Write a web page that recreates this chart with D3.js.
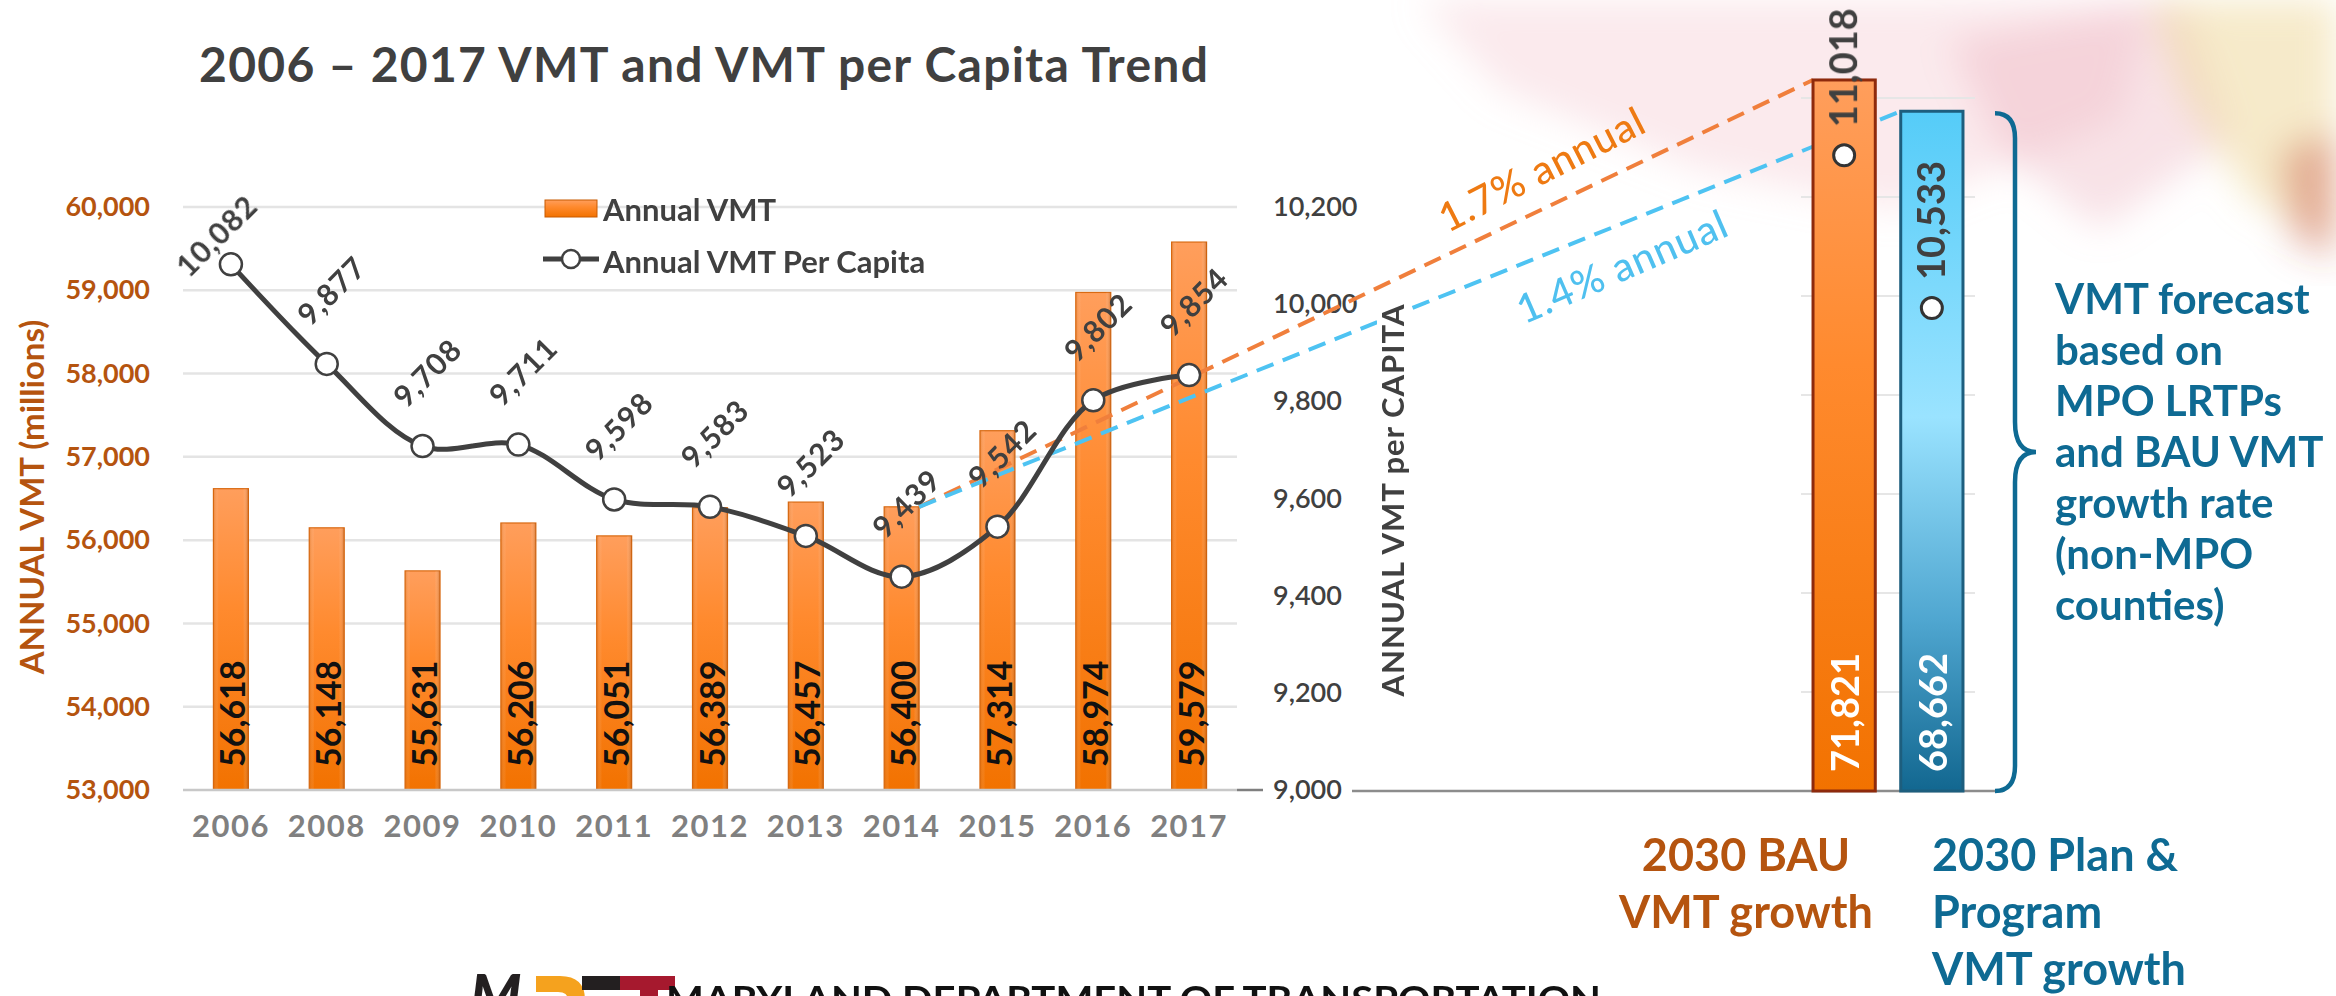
<!DOCTYPE html>
<html>
<head>
<meta charset="utf-8">
<script src="https://cdn.jsdelivr.net/npm/d3@7"></script>
<style>
  html, body { margin: 0; padding: 0; background: #fff; }
  svg { display: block; font-family: Lato, "Open Sans", sans-serif; }
</style>
</head>
<body>
<div id="chart"></div>
<script>
// data
const years = ["2006", "2008", "2009", "2010", "2011", "2012", "2013", "2014", "2015", "2016", "2017"];
const annualVMT = [56618, 56148, 55631, 56206, 56051, 56389, 56457, 56400, 57314, 58974, 59579];
const vmtPerCapita = [10082, 9877, 9708, 9711, 9598, 9583, 9523, 9439, 9542, 9802, 9854];
const vmtTicks = [53000, 54000, 55000, 56000, 57000, 58000, 59000, 60000];
const perCapitaTicks = [9000, 9200, 9400, 9600, 9800, 10000, 10200];

const forecastCats = ["2030 BAU", "2030 Plan & Program"];
const forecastVMT = [71821, 68662];
const forecastPerCapita = [11018, 10533];
const forecastGrid = [0, 10000, 20000, 30000, 40000, 50000, 60000, 70000];
const growthRates = ["1.7% annual", "1.4% annual"];

const bauLabel = ["2030 BAU", "VMT growth"];
const planLabel = ["2030 Plan &", "Program", "VMT growth"];
const noteLines = ["VMT forecast", "based on", "MPO LRTPs", "and BAU VMT", "growth rate", "(non-MPO", "counties)"];

const width = 2336;
const height = 996;
const dark = "#404040";
const brown = "#B5540F";
const teal = "#0E6A93";

const svg = d3.select("#chart").append("svg")
    .attr("width", width)
    .attr("height", height)
    .attr("viewBox", [0, 0, width, height]);

const defs = svg.append("defs");

const og = defs.append("linearGradient").attr("id", "orangeBar").attr("x1", 0).attr("y1", 0).attr("x2", 0).attr("y2", 1);
og.append("stop").attr("offset", "0%").attr("stop-color", "#FF9E5C");
og.append("stop").attr("offset", "40%").attr("stop-color", "#FF8A2E");
og.append("stop").attr("offset", "100%").attr("stop-color", "#F27200");

const oe = defs.append("linearGradient").attr("id", "orangeEdge").attr("x1", 0).attr("y1", 0).attr("x2", 1).attr("y2", 0);
oe.append("stop").attr("offset", "0%").attr("stop-color", "#C85A00").attr("stop-opacity", 0.35);
oe.append("stop").attr("offset", "15%").attr("stop-color", "#fff").attr("stop-opacity", 0);
oe.append("stop").attr("offset", "85%").attr("stop-color", "#fff").attr("stop-opacity", 0);
oe.append("stop").attr("offset", "100%").attr("stop-color", "#A84800").attr("stop-opacity", 0.45);

const bg = defs.append("linearGradient").attr("id", "blueBar").attr("x1", 0).attr("y1", 0).attr("x2", 0).attr("y2", 1);
bg.append("stop").attr("offset", "0%").attr("stop-color", "#55CCF8");
bg.append("stop").attr("offset", "45%").attr("stop-color", "#9AE3FF");
bg.append("stop").attr("offset", "75%").attr("stop-color", "#4FA6D0");
bg.append("stop").attr("offset", "100%").attr("stop-color", "#126790");

defs.append("filter").attr("id", "blur").append("feGaussianBlur").attr("stdDeviation", 18);

// faint flag decoration top right
const deco = svg.append("g").attr("filter", "url(#blur)");
deco.append("path")
    .attr("d", "M1420,0 L2150,0 L2120,120 L1900,210 L1700,170 L1500,90 Z")
    .attr("fill", "#F3C4CC").attr("opacity", 0.35);
deco.append("path")
    .attr("d", "M1950,40 L2180,0 L2230,140 L2100,230 L2000,150 Z")
    .attr("fill", "#E8A0AE").attr("opacity", 0.3);
deco.append("path")
    .attr("d", "M2150,0 L2336,0 L2336,240 L2250,200 L2180,90 Z")
    .attr("fill", "#EBD08A").attr("opacity", 0.45);
deco.append("path")
    .attr("d", "M2280,150 L2336,130 L2336,260 L2290,240 Z")
    .attr("fill", "#C0392B").attr("opacity", 0.35);

// ---- left chart: 2006-2017 ----
const x = d3.scaleBand().domain(years).range([183, 1237]).paddingInner(0.635).paddingOuter(0.3175);
const y = d3.scaleLinear().domain([53000, 60000]).range([790, 207]);
const yPc = d3.scaleLinear().domain([9000, 10200]).range([790, 207]);

svg.append("text")
    .attr("x", 199).attr("y", 82)
    .attr("font-size", 48).attr("font-weight", 700).attr("fill", dark)
    .attr("letter-spacing", 1.3)
    .text("2006 \u2013 2017 VMT and VMT per Capita Trend");

// gridlines
svg.append("g")
    .selectAll("line")
    .data(vmtTicks.slice(1))
    .join("line")
    .attr("x1", 183).attr("x2", 1237)
    .attr("y1", d => y(d)).attr("y2", d => y(d))
    .attr("stroke", "#E4E4E4").attr("stroke-width", 2.5);

// left axis
const gy = svg.append("g")
    .attr("transform", "translate(150,0)")
    .call(d3.axisLeft(y).tickValues(vmtTicks).tickSize(0).tickPadding(0).tickFormat(d3.format(",")))
    .call(g => g.select(".domain").remove());
gy.selectAll("text")
    .attr("font-family", "Lato, sans-serif").attr("font-size", 27).attr("font-weight", 700)
    .attr("fill", brown);

svg.append("text")
    .attr("transform", "translate(31,497) rotate(-90)")
    .attr("text-anchor", "middle").attr("dominant-baseline", "central")
    .attr("font-size", 33).attr("font-weight", 700).attr("fill", brown)
    .text("ANNUAL VMT (millions)");

// bars
const barG = svg.append("g");
barG.selectAll("rect.bar")
    .data(years)
    .join("rect")
    .attr("class", "bar")
    .attr("x", d => x(d))
    .attr("y", (d, i) => y(annualVMT[i]))
    .attr("width", x.bandwidth())
    .attr("height", (d, i) => y(53000) - y(annualVMT[i]))
    .attr("fill", "url(#orangeBar)")
    .attr("stroke", "#D96A12").attr("stroke-width", 1.2);
barG.selectAll("rect.edge")
    .data(years)
    .join("rect")
    .attr("class", "edge")
    .attr("x", d => x(d))
    .attr("y", (d, i) => y(annualVMT[i]))
    .attr("width", x.bandwidth())
    .attr("height", (d, i) => y(53000) - y(annualVMT[i]))
    .attr("fill", "url(#orangeEdge)");

// bar value labels
barG.selectAll("text")
    .data(years)
    .join("text")
    .attr("transform", d => `translate(${x(d) + x.bandwidth() / 2 + 1},767) rotate(-90)`)
    .attr("dominant-baseline", "central")
    .attr("font-size", 34).attr("font-weight", 700).attr("fill", "#111")
    .text((d, i) => d3.format(",")(annualVMT[i]));

// x axis
svg.append("line")
    .attr("x1", 183).attr("x2", 1237).attr("y1", y(53000)).attr("y2", y(53000))
    .attr("stroke", "#C8C8C8").attr("stroke-width", 2.5);
const gx = svg.append("g")
    .attr("transform", `translate(0,${y(53000)})`)
    .call(d3.axisBottom(x).tickSize(0).tickPadding(25))
    .call(g => g.select(".domain").remove());
gx.selectAll("text")
    .attr("font-family", "Lato, sans-serif").attr("font-size", 31).attr("font-weight", 700)
    .attr("letter-spacing", 1.5)
    .attr("fill", "#808080");

// right axis (per capita)
svg.append("line")
    .attr("x1", 1237).attr("x2", 1263).attr("y1", yPc(9000)).attr("y2", yPc(9000))
    .attr("stroke", "#7F7F7F").attr("stroke-width", 2.5);
const gr = svg.append("g")
    .attr("transform", "translate(1273,0)")
    .call(d3.axisRight(yPc).tickValues(perCapitaTicks).tickSize(0).tickPadding(0).tickFormat(d3.format(",")))
    .call(g => g.select(".domain").remove());
gr.selectAll("text")
    .attr("font-family", "Lato, sans-serif").attr("font-size", 27).attr("font-weight", 600)
    .attr("fill", dark);

// ---- right panel: 2030 forecast ----
const xF = d3.scaleBand().domain(forecastCats).range([1806, 1970]).paddingInner(0.29).paddingOuter(0.08);
const yF = d3.scaleLinear().domain([0, 70000]).range([791, 98]);
const yFpc = d3.scaleLinear().domain([9000, 11200]).range([791, 98]);

svg.append("g")
    .selectAll("line")
    .data(forecastGrid.slice(1))
    .join("line")
    .attr("x1", 1801).attr("x2", 1975)
    .attr("y1", d => yF(d)).attr("y2", d => yF(d))
    .attr("stroke", "#E6E6E6").attr("stroke-width", 2);

svg.append("line")
    .attr("x1", 1352).attr("x2", 2003).attr("y1", yF(0)).attr("y2", yF(0))
    .attr("stroke", "#8C8C8C").attr("stroke-width", 2.5);

// dashed growth lines from the 2014 bar top to the 2030 bars
const start = [x("2014") + x.bandwidth(), y(annualVMT[years.indexOf("2014")])];
const trendColors = ["#F07F3C", "#4EC3F2"];
const trendText = ["#EE7A12", "#4FC0EF"];
const ends = forecastCats.map((c, i) => [xF(c), yF(forecastVMT[i])]);

svg.append("g")
    .selectAll("line")
    .data(ends)
    .join("line")
    .attr("x1", start[0]).attr("y1", start[1])
    .attr("x2", d => d[0]).attr("y2", d => d[1])
    .attr("stroke", (d, i) => trendColors[i])
    .attr("stroke-width", 4)
    .attr("stroke-dasharray", "18 10");

svg.append("g")
    .selectAll("text")
    .data(ends)
    .join("text")
    .attr("transform", (d, i) => {
        const t = i === 0 ? 0.715 : 0.70;
        const px = start[0] + (d[0] - start[0]) * t;
        const py = start[1] + (d[1] - start[1]) * t;
        const ang = Math.atan2(d[1] - start[1], d[0] - start[0]) * 180 / Math.PI - 1.5;
        return `translate(${px},${py}) rotate(${ang})`;
    })
    .attr("text-anchor", "middle")
    .attr("dy", (d, i) => i === 0 ? -22 : 54)
    .attr("font-size", 40).attr("font-weight", 500)
    .attr("letter-spacing", 1)
    .attr("fill", (d, i) => trendText[i])
    .text((d, i) => growthRates[i]);

// right axis title, drawn over the dashes
svg.append("text")
    .attr("transform", "translate(1392,500) rotate(-90)")
    .attr("text-anchor", "middle").attr("dominant-baseline", "central")
    .attr("font-size", 31).attr("font-weight", 700).attr("fill", dark)
    .attr("letter-spacing", 1)
    .attr("stroke", "#fff").attr("stroke-width", 10).attr("paint-order", "stroke")
    .text("ANNUAL VMT per CAPITA");

// per capita line on the left chart
const line = d3.line()
    .x((d, i) => x(years[i]) + x.bandwidth() / 2)
    .y(d => yPc(d))
    .curve(d3.curveCatmullRom.alpha(0.5));

svg.append("path")
    .datum(vmtPerCapita)
    .attr("d", line)
    .attr("fill", "none")
    .attr("stroke", dark)
    .attr("stroke-width", 5);

svg.append("g")
    .selectAll("circle")
    .data(vmtPerCapita)
    .join("circle")
    .attr("cx", (d, i) => x(years[i]) + x.bandwidth() / 2)
    .attr("cy", d => yPc(d))
    .attr("r", 11)
    .attr("fill", "#fff")
    .attr("stroke", dark)
    .attr("stroke-width", 2.5);

svg.append("g")
    .selectAll("text")
    .data(vmtPerCapita)
    .join("text")
    .attr("transform", (d, i) => {
        const cx = x(years[i]) + x.bandwidth() / 2;
        const top = yPc(d) - 74;
        const ty = Math.max(top, 235);
        const tx = top < 235 ? cx - 15 : cx + 4;
        return `translate(${tx},${ty}) rotate(-45)`;
    })
    .attr("text-anchor", "middle").attr("dominant-baseline", "central")
    .attr("font-size", 30).attr("font-weight", 700).attr("fill", dark)
    .attr("letter-spacing", 1)
    .text(d => d3.format(",")(d));

// legend
svg.append("rect")
    .attr("x", 545).attr("y", 200).attr("width", 52).attr("height", 17)
    .attr("fill", "url(#orangeBar)").attr("stroke", "#C85A00").attr("stroke-width", 1);
svg.append("line")
    .attr("x1", 543).attr("x2", 599).attr("y1", 259).attr("y2", 259)
    .attr("stroke", dark).attr("stroke-width", 5);
svg.append("circle")
    .attr("cx", 571).attr("cy", 259).attr("r", 9)
    .attr("fill", "#fff").attr("stroke", dark).attr("stroke-width", 2.5);
svg.append("text")
    .attr("x", 603).attr("y", 209).attr("dominant-baseline", "central")
    .attr("font-size", 31).attr("font-weight", 700).attr("fill", dark)
    .text("Annual VMT");
svg.append("text")
    .attr("x", 603).attr("y", 261).attr("dominant-baseline", "central")
    .attr("font-size", 31).attr("font-weight", 700).attr("fill", dark)
    .text("Annual VMT Per Capita");

// forecast bars
const fills = ["url(#orangeBar)", "url(#blueBar)"];
const strokes = ["#8E2A0C", "#1D5E7E"];
svg.append("g")
    .selectAll("rect")
    .data(forecastCats)
    .join("rect")
    .attr("x", d => xF(d))
    .attr("y", (d, i) => yF(forecastVMT[i]))
    .attr("width", xF.bandwidth())
    .attr("height", (d, i) => yF(0) - yF(forecastVMT[i]))
    .attr("fill", (d, i) => fills[i])
    .attr("stroke", (d, i) => strokes[i])
    .attr("stroke-width", 3);

svg.append("g")
    .selectAll("text")
    .data(forecastCats)
    .join("text")
    .attr("transform", d => `translate(${xF(d) + xF.bandwidth() / 2},772) rotate(-90)`)
    .attr("dominant-baseline", "central")
    .attr("font-size", 38).attr("font-weight", 700).attr("fill", "#fff")
    .text((d, i) => d3.format(",")(forecastVMT[i]));

svg.append("g")
    .selectAll("circle")
    .data(forecastCats)
    .join("circle")
    .attr("cx", d => xF(d) + xF.bandwidth() / 2)
    .attr("cy", (d, i) => yFpc(forecastPerCapita[i]))
    .attr("r", 10.5)
    .attr("fill", "#fff").attr("stroke", "#333").attr("stroke-width", 3);

svg.append("g")
    .selectAll("text")
    .data(forecastCats)
    .join("text")
    .attr("transform", (d, i) => `translate(${xF(d) + xF.bandwidth() / 2 - 2},${yFpc(forecastPerCapita[i]) - 28}) rotate(-90)`)
    .attr("dominant-baseline", "central")
    .attr("font-size", 38).attr("font-weight", 700).attr("fill", dark)
    .text((d, i) => d3.format(",")(forecastPerCapita[i]));

// brace
const bTop = yF(forecastVMT[1]) + 2;
const bBot = yF(0);
const bMid = (bTop + bBot) / 2;
svg.append("path")
    .attr("d", `M1995,${bTop} Q2015,${bTop} 2015,${bTop + 25} L2015,${bMid - 30} Q2015,${bMid} 2036,${bMid}
                Q2015,${bMid} 2015,${bMid + 30} L2015,${bBot - 25} Q2015,${bBot} 1995,${bBot}`)
    .attr("fill", "none").attr("stroke", teal).attr("stroke-width", 4.5);

svg.append("g")
    .selectAll("text")
    .data(noteLines)
    .join("text")
    .attr("x", 2055)
    .attr("y", (d, i) => 314 + i * 51)
    .attr("font-size", 42).attr("font-weight", 700).attr("fill", teal)
    .text(d => d);

// category labels under the forecast bars
svg.append("g")
    .selectAll("text")
    .data(bauLabel)
    .join("text")
    .attr("x", 1746).attr("y", (d, i) => 871 + i * 57)
    .attr("text-anchor", "middle")
    .attr("font-size", 45).attr("font-weight", 700).attr("fill", brown)
    .text(d => d);

svg.append("g")
    .selectAll("text")
    .data(planLabel)
    .join("text")
    .attr("x", 1932).attr("y", (d, i) => 871 + i * 57)
    .attr("font-size", 45).attr("font-weight", 700).attr("fill", teal)
    .text(d => d);

// MDOT logo strip at the bottom (cut off by the slide edge, as on the slide)
const logo = svg.append("g");
logo.append("text")
    .attr("x", 470).attr("y", 1016)
    .attr("font-size", 58).attr("font-weight", 900).attr("font-style", "italic").attr("fill", "#231F20")
    .text("M");
logo.append("path")
    .attr("d", "M536,976 L560,976 Q585,976 585,1000 L585,1010 L568,1010 L568,1000 Q568,992 558,992 L536,992 Z")
    .attr("fill", "#F5A21E");
logo.append("rect").attr("x", 582).attr("y", 976).attr("width", 40).attr("height", 14).attr("fill", "#231F20");
logo.append("rect").attr("x", 620).attr("y", 976).attr("width", 55).attr("height", 14).attr("fill", "#A6192E");
logo.append("rect").attr("x", 640).attr("y", 976).attr("width", 18).attr("height", 30).attr("fill", "#A6192E");
logo.append("text")
    .attr("x", 666).attr("y", 1012)
    .attr("font-size", 36).attr("font-weight", 700).attr("fill", "#111")
    .attr("textLength", 935).attr("lengthAdjust", "spacingAndGlyphs")
    .text("MARYLAND DEPARTMENT OF TRANSPORTATION");
</script>
</body>
</html>
